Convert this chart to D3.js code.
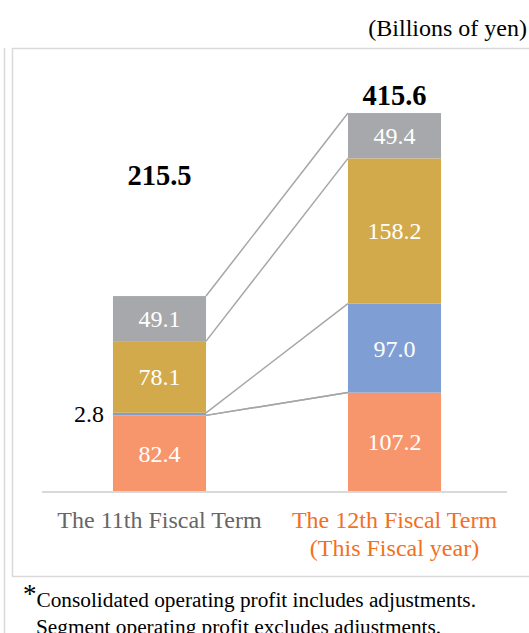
<!DOCTYPE html>
<html>
<head>
<meta charset="utf-8">
<script src="https://cdn.jsdelivr.net/npm/d3@7"></script>
</head>
<body style="margin:0">
<svg></svg>
<script>
const width = 529;
const height = 633;

// Data
const terms = ["The 11th Fiscal Term", "The 12th Fiscal Term"];
const termSubs = ["", "(This Fiscal year)"];
const segments = ["seg1", "seg2", "seg3", "seg4"]; // bottom to top
const seg1 = [82.4, 107.2];
const seg2 = [2.8, 97.0];
const seg3 = [78.1, 158.2];
const seg4 = [49.1, 49.4];
const totals = [215.5, 415.6];

const segColors = ["#F7966D", "#7F9FD4", "#D3AA4B", "#A7A8AB"];
const termColors = ["#666666", "#F2701F"];
const serif = "Liberation Serif";

let svg = d3.select("svg")
  .attr("width", width).attr("height", height);

// Frames
svg.append("line")
  .attr("x1", 4.5).attr("x2", 4.5).attr("y1", 48).attr("y2", height)
  .attr("stroke", "#D9D9D9").attr("stroke-width", 1.5);
svg.append("rect")
  .attr("x", 12.5).attr("y", 48.5).attr("width", width + 10).attr("height", 528)
  .attr("fill", "none").attr("stroke", "#D9D9D9").attr("stroke-width", 1.5);

svg.append("text")
  .attr("x", 527).attr("y", 36)
  .attr("text-anchor", "end")
  .attr("font-family", serif)
  .attr("font-size", 24)
  .text("(Billions of yen)");

const x = d3.scaleBand().domain(terms).range([42, 512]).paddingInner(0.604).paddingOuter(0.302);
const y = d3.scaleLinear().domain([0, 450]).range([491, 78]);

// Stack
const table = terms.map((t, i) => ({
  term: t, seg1: seg1[i], seg2: seg2[i], seg3: seg3[i], seg4: seg4[i]
}));
const series = d3.stack().keys(segments)(table);

// Connector lines: right top of bar 1 segments to left top of bar 2 segments
const connectors = svg.append("g");
series.forEach((s) => {
  const a = s[0], b = s[1];
  connectors.append("line")
    .attr("x1", x(terms[0]) + x.bandwidth())
    .attr("y1", y(a[1]))
    .attr("x2", x(terms[1]))
    .attr("y2", y(b[1]))
    .attr("stroke", "#A6A6A6").attr("stroke-width", 1.5);
});
// lower connector from bottom of blue in bar 1 to bottom of blue in bar 2
connectors.append("line")
  .attr("x1", x(terms[0]) + x.bandwidth())
  .attr("y1", y(series[1][0][0]))
  .attr("x2", x(terms[1]))
  .attr("y2", y(series[1][1][0]))
  .attr("stroke", "#A6A6A6").attr("stroke-width", 1.5);

const groups = svg.append("g").selectAll("g")
  .data(series).enter().append("g")
  .attr("fill", (d, i) => segColors[i]);

groups.selectAll("rect")
  .data(d => d)
  .enter().append("rect")
  .attr("x", d => x(d.data.term))
  .attr("y", d => y(d[1]))
  .attr("width", x.bandwidth())
  .attr("height", d => y(d[0]) - y(d[1]));

groups.selectAll("text")
  .data(d => d)
  .enter().append("text")
  .attr("x", d => x(d.data.term) + x.bandwidth() / 2)
  .attr("y", d => (y(d[0]) + y(d[1])) / 2)
  .attr("dy", "0.35em")
  .attr("text-anchor", "middle")
  .attr("fill", "#fff")
  .attr("font-family", serif)
  .attr("font-size", 24)
  .text(d => (d[1] - d[0] < 10 ? "" : (d[1] - d[0]).toFixed(1)));

// small value outside
svg.append("text")
  .attr("x", x(terms[0]) - 9)
  .attr("y", 422)
  .attr("text-anchor", "end")
  .attr("font-family", serif)
  .attr("font-size", 24)
  .text(seg2[0].toFixed(1));

// Totals
const totalY = [185, 105];
svg.selectAll(".total")
  .data(totals).enter().append("text")
  .attr("x", (d, i) => x(terms[i]) + x.bandwidth() / 2)
  .attr("y", (d, i) => totalY[i])
  .attr("text-anchor", "middle")
  .attr("font-family", serif)
  .attr("font-size", 28.5)
  .attr("font-weight", "bold")
  .text(d => d.toFixed(1));

// Baseline
svg.append("line")
  .attr("x1", 42).attr("x2", 507).attr("y1", y(0) + 1).attr("y2", y(0) + 1)
  .attr("stroke", "#D9D9D9").attr("stroke-width", 2);

// Category labels
terms.forEach((t, i) => {
  svg.append("text")
    .attr("x", x(t) + x.bandwidth() / 2)
    .attr("y", 528)
    .attr("text-anchor", "middle")
    .attr("fill", termColors[i])
    .attr("font-family", serif)
    .attr("font-size", 24)
    .text(t);
  if (termSubs[i]) {
    svg.append("text")
      .attr("x", x(t) + x.bandwidth() / 2)
      .attr("y", 556)
      .attr("text-anchor", "middle")
      .attr("fill", termColors[i])
      .attr("font-family", serif)
      .attr("font-size", 24)
      .text(termSubs[i]);
  }
});

// Footnote
const fn = svg.append("text").attr("x", 23).attr("y", 607)
  .attr("font-family", serif).attr("font-size", 21.3);
fn.append("tspan").attr("dy", "-4").attr("font-size", 27).text("*");
fn.append("tspan").attr("dy", "4").text("Consolidated operating profit includes adjustments.");
svg.append("text").attr("x", 36).attr("y", 634)
  .attr("font-family", serif).attr("font-size", 21.3)
  .text("Segment operating profit excludes adjustments.");
</script>
</body>
</html>
